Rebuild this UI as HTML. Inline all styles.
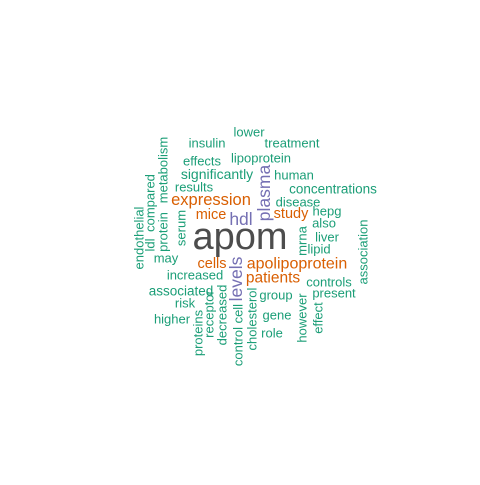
<!DOCTYPE html>
<html><head><meta charset="utf-8"><style>
html,body{margin:0;padding:0;background:#fff}
svg text{font-family:"Liberation Sans",Arial,sans-serif}
</style></head><body>
<svg width="480" height="480" viewBox="0 0 480 480" id="wc"></svg>
<script>
const words=["apom","lower","insulin","treatment","effects","lipoprotein","significantly","human","results","concentrations","expression","disease","mice","hdl","study","hepg","also","liver","lipid","may","cells","apolipoprotein","increased","patients","controls","associated","group","present","risk","gene","higher","role","plasma","metabolism","compared","endothelial","protein","serum","ldl","mrna","association","levels","receptor","decreased","proteins","control cell","cholesterol","however","effect"];
const sizes=[38,13,13,13,13,13,14,13,13,13.5,16.5,13,14.5,17.5,14.5,13,13,13,13,13,14.5,16,13,15.5,13,13.5,13,13,13,13,13,13,17.5,13,13,13,13,13,13,13,13,17.5,13,13,13,13,13,13,13];
const colorGroup=[3,0,0,0,0,0,0,0,0,0,1,0,1,2,1,0,0,0,0,0,1,1,0,1,0,0,0,0,0,0,0,0,2,0,0,0,0,0,0,0,0,2,0,0,0,0,0,0,0];
const cx=[240,249,207,292,202,261,217,294,194,333,211,298,211,241,291,327,324,327,319,166,212,297,195,273,329,181,276,334,185,277,172,272,264,163,150,139,163,181,150,302,363,236,209,222,198,238,252,302,318];
const cy=[237,132,143,143,161,158,174,175,187,189,200,202,215,219,214,211,223,237,249,258,264,264,275,278,282,291,295,293,303,315,319,333,193,170,203,238,232,228,245,241,252,279,314,315,333,335,319,318,318];
const rotated=[0,0,0,0,0,0,0,0,0,0,0,0,0,0,0,0,0,0,0,0,0,0,0,0,0,0,0,0,0,0,0,0,1,1,1,1,1,1,1,1,1,1,1,1,1,1,1,1,1];
const palette=["#1b9e77","#d95f02","#7570b3","#4d4d4d"];
const svg=document.getElementById('wc');
for(let i=0;i<words.length;i++){
  const t=document.createElementNS('http://www.w3.org/2000/svg','text');
  
  
  t.setAttribute('text-anchor','middle');
  t.setAttribute('dominant-baseline','central');
  t.setAttribute('font-size',sizes[i]);
  t.setAttribute('fill',palette[colorGroup[i]]);
  t.setAttribute('transform','translate('+cx[i]+','+cy[i]+')'+(rotated[i]?' rotate(-90)':''));
  t.textContent=words[i];
  svg.appendChild(t);
}
</script>
</body></html>
